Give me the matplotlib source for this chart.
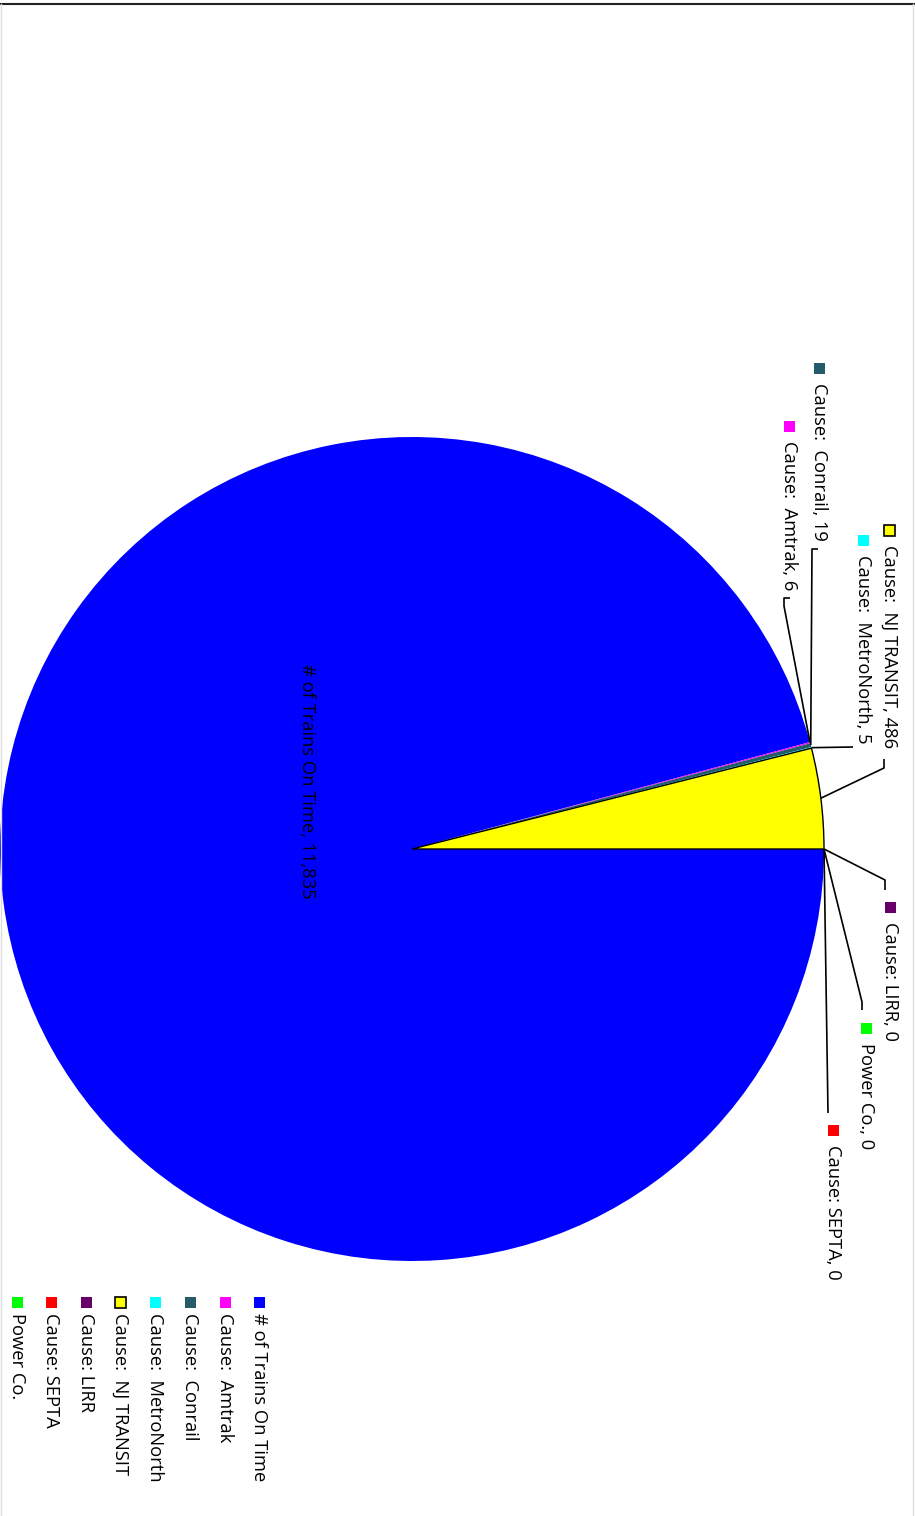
import matplotlib
matplotlib.use("Agg")
import numpy as np
import matplotlib.pyplot as plt
from matplotlib.patches import Rectangle
from matplotlib.lines import Line2D

plt.rcParams['font.family'] = ['Open Sans', 'DejaVu Sans']

# data
labels = ['# of Trains On Time', 'Cause:  Amtrak', 'Cause:  Conrail', 'Cause:  MetroNorth',
          'Cause:  NJ TRANSIT', 'Cause: LIRR', 'Cause: SEPTA', 'Power Co.']
values = [11835, 6, 19, 5, 486, 0, 0, 0]
colors = ['#0000ff', '#ff00ff', '#245c6b', '#00ffff', '#ffff00', '#660066', '#ff0000', '#00ff00']

W, H = 915, 1516
fig = plt.figure(figsize=(W / 100, H / 100), dpi=100)
ax = fig.add_axes([0, 0, 1, 1])

def py(y):
    # pixel row (from top) -> data y
    return H - y

cx, cy, R = 412, 849, 412
wedges, _ = ax.pie(values, colors=colors, startangle=0, counterclock=False,
                   center=(cx, py(cy)), radius=R,
                   wedgeprops=dict(linewidth=0))
wedges[4].set_edgecolor('black')
wedges[4].set_linewidth(1)

ax.set_xlim(0, W)
ax.set_ylim(0, H)
ax.set_aspect('auto')
ax.axis('off')

fs = 13.2

# label layout: index -> (text center x, text top y, leader points after the wedge point)
layout = {
    4: (889, 545, [(884, 768), (884, 759)]),
    3: (863, 555, [(853, 747)]),
    2: (819, 383, [(812, 549), (818, 549)]),
    1: (789, 441, [(784, 606), (784, 598), (790, 598)]),
    5: (890, 922, [(885, 880), (885, 890)]),
    7: (866, 1043, [(862, 1002), (862, 1010)]),
    6: (833, 1145, [(828, 1113)]),
}

for i, (tx, ty, pts) in layout.items():
    w = wedges[i]
    mid = np.deg2rad((w.theta1 + w.theta2) / 2)
    sx = cx + R * np.cos(mid)
    sy = cy - R * np.sin(mid)
    xs = [sx] + [p[0] for p in pts]
    ys = [py(sy)] + [py(p[1]) for p in pts]
    ax.plot(xs, ys, color='black', lw=1.2, solid_capstyle='butt')
    ec = 'black' if i == 4 else colors[i]
    ax.add_patch(Rectangle((tx - 5.5, py(ty - 9)), 11, 11, facecolor=colors[i],
                           edgecolor=ec, lw=1.2 if i == 4 else 0))
    ax.text(tx, py(ty), f"{labels[i]}, {values[i]:,}", rotation=270,
            ha='center', va='top', fontsize=fs)

# label inside the big slice
ax.text(307, py(781), f"{labels[0]}, {values[0]:,}", rotation=270,
        ha='center', va='center', fontsize=fs)

# legend, one column per entry, read from right to left
leg_x = [259, 225, 190, 155, 120, 86, 51, 17]
for i, lx in enumerate(leg_x):
    ec = 'black' if i == 4 else colors[i]
    ax.add_patch(Rectangle((lx - 5.5, py(1308)), 11, 11, facecolor=colors[i],
                           edgecolor=ec, lw=1.2 if i == 4 else 0))
    ax.text(lx, py(1313), labels[i], rotation=270, ha='center', va='top', fontsize=fs)

# frame lines
fig.add_artist(Line2D([0, 1], [1 - 4 / H, 1 - 4 / H], color='#222222', lw=1.5))
fig.add_artist(Line2D([0.5 / W, 0.5 / W], [0, 1 - 4 / H], color='#dddddd', lw=1))
fig.add_artist(Line2D([1 - 2 / W, 1 - 2 / W], [0, 1 - 4 / H], color='#dddddd', lw=1))

fig.savefig('out.png', dpi=100)
